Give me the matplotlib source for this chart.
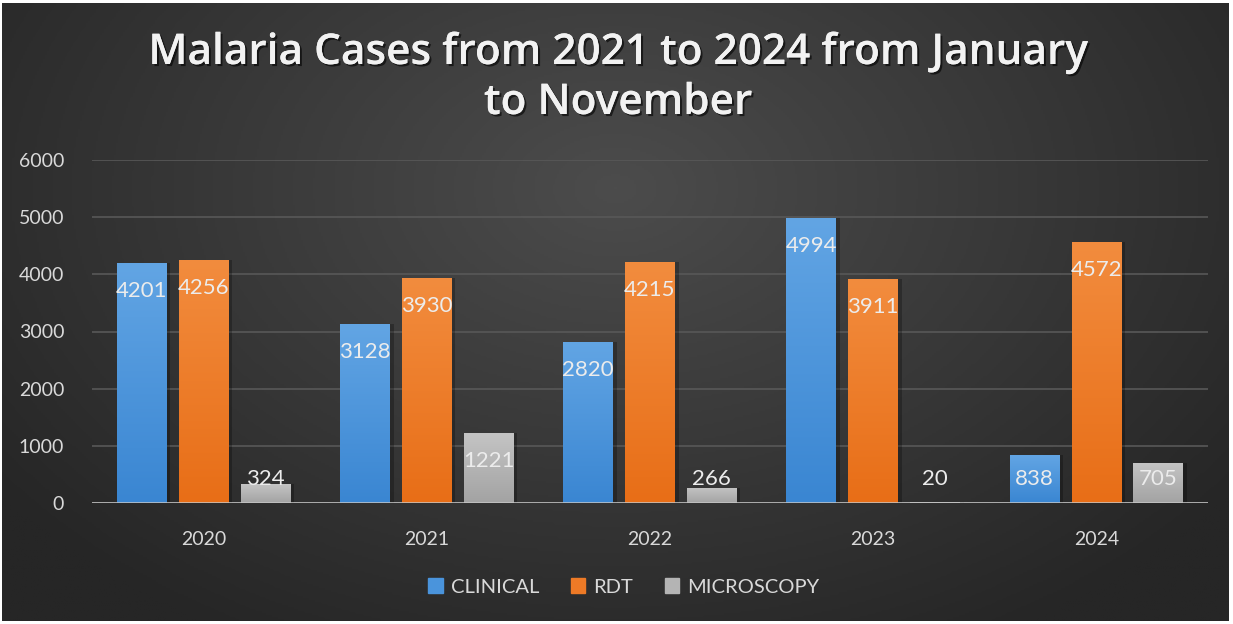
import numpy as np
import matplotlib.pyplot as plt
import matplotlib.patheffects as pe
from matplotlib.colors import LinearSegmentedColormap
from matplotlib.patches import Patch

W, H, DPI = 1233, 624, 100

years = ["2020", "2021", "2022", "2023", "2024"]
series = ["CLINICAL", "RDT", "MICROSCOPY"]
clinical = [4201, 3128, 2820, 4994, 838]
rdt = [4256, 3930, 4215, 3911, 4572]
microscopy = [324, 1221, 266, 20, 705]
values = [clinical, rdt, microscopy]
title = "Malaria Cases from 2021 to 2024 from January\nto November"

# top / bottom colours of the bar gradients
bar_top = ["#62a5e4", "#f28c3e", "#c4c4c4"]
bar_bot = ["#3a86d2", "#e86e17", "#a3a3a3"]
legend_col = ["#4a94dc", "#ee7a26", "#b4b4b4"]

plt.rcParams["font.family"] = ["Lato", "DejaVu Sans"]

fig = plt.figure(figsize=(W / DPI, H / DPI), dpi=DPI, facecolor="white")

# dark radial background
bg = fig.add_axes([0.002, 0.005, 0.995, 0.99])
bg.set_axis_off()
yy, xx = np.mgrid[0:1:300j, 0:1:600j]
r = np.sqrt(((xx - 0.5) * 1.2) ** 2 + ((yy - 0.3) * 0.9) ** 2)
t = np.clip(r / 0.75, 0, 1)
bgmap = LinearSegmentedColormap.from_list("bg", ["#4c4c4c", "#262626"])
bg.imshow(t, cmap=bgmap, aspect="auto", extent=[0, 1, 1, 0], vmin=0, vmax=1)
bg.set_xlim(0, 1)
bg.set_ylim(1, 0)

ax = fig.add_axes([92 / W, 1 - 503 / H, (1208 - 92) / W, (503 - 160) / H])
ax.patch.set_alpha(0)

x = np.arange(len(years))
bw = 0.223
offs = [-0.277, 0, 0.277]
grad = np.linspace(0, 1, 100).reshape(-1, 1)

for k in range(3):
    cmap = LinearSegmentedColormap.from_list("g%d" % k, [bar_bot[k], bar_top[k]])
    bars = ax.bar(x + offs[k], values[k], bw, color=bar_bot[k], zorder=3,
                  linewidth=0)
    for b, v in zip(bars, values[k]):
        # subtle shadow
        ax.bar(b.get_x() + b.get_width() / 2 + 0.012, v, bw * 1.04,
               color="black", alpha=0.25, zorder=2, linewidth=0)
        x0 = b.get_x()
        im = ax.imshow(grad, cmap=cmap, aspect="auto", origin="lower",
                       extent=[x0, x0 + bw, 0, max(v, 1)], zorder=4)
        im.set_clip_path(b)
        ly = max(v - 490, 420)
        ax.text(b.get_x() + bw / 2, ly, str(v), ha="center", va="center",
                color="#ececec", fontsize=16, zorder=6)

ax.set_xlim(-0.5, 4.5)
ax.set_ylim(0, 6000)

ax.set_yticks(range(0, 6001, 1000))
ax.yaxis.grid(True, color="#585858", linewidth=1.2, zorder=0)
ax.axhline(0, color="#c8c8c8", linewidth=1.8, zorder=5)
for s in ax.spines.values():
    s.set_visible(False)
ax.set_xticks(x)
ax.set_xticklabels(years)
ax.tick_params(length=0, colors="#d9d9d9", labelsize=14)
ax.tick_params(axis="y", pad=20)
ax.tick_params(axis="x", pad=20)

fig.text(618 / W, 1 - 78 / H, title, ha="center", va="center",
         color="#f2f2f2", fontsize=30.5, fontweight="semibold", linespacing=1.25,
         family=["Open Sans", "DejaVu Sans"],
         path_effects=[pe.withSimplePatchShadow(offset=(1.5, -1.5),
                                                 shadow_rgbFace="black",
                                                 alpha=0.6), pe.Normal()])

handles = [Patch(color=c) for c in legend_col]
leg = fig.legend(handles, series, loc="center", ncol=3,
                 bbox_to_anchor=(624 / W, 1 - 587 / H), frameon=False,
                 fontsize=14.5, handlelength=0.7, handleheight=0.7,
                 handletextpad=0.4, columnspacing=1.6, labelcolor="#d9d9d9")

fig.savefig("out.png", dpi=DPI, facecolor="white")
